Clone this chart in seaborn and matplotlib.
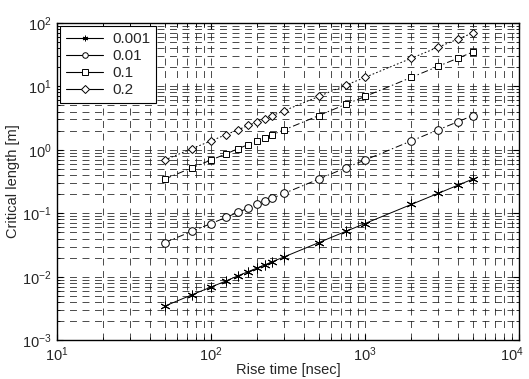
import matplotlib
matplotlib.use("Agg")
import matplotlib.pyplot as plt
import seaborn as sns
import pandas as pd
from matplotlib.ticker import LogLocator, NullFormatter, FuncFormatter, LogFormatterSciNotation

sns.set_style("ticks")
plt.rcParams['font.family'] = ['Liberation Sans', 'DejaVu Sans']
plt.rcParams['mathtext.fontset'] = 'custom'
plt.rcParams['mathtext.rm'] = 'Liberation Sans'
plt.rcParams['mathtext.it'] = 'Liberation Sans:italic'
plt.rcParams['lines.scale_dashes'] = False

# Data (rise time in nsec, critical length in m)
rise_time = [50, 75, 100, 125, 150, 175, 200, 225, 250, 300, 500, 750, 1000, 2000, 3000, 4000, 5000]
len_0001 = [0.00345, 0.0052, 0.0069, 0.0086, 0.0104, 0.0121, 0.0138, 0.0155, 0.0173, 0.0207,
            0.0345, 0.052, 0.069, 0.138, 0.207, 0.276, 0.345]
len_001 = [0.0345, 0.052, 0.069, 0.086, 0.104, 0.121, 0.138, 0.155, 0.173, 0.207,
           0.345, 0.52, 0.69, 1.38, 2.07, 2.76, 3.45]
len_01 = [0.345, 0.52, 0.69, 0.86, 1.04, 1.21, 1.38, 1.55, 1.73, 2.07,
          3.45, 5.2, 6.9, 13.8, 20.7, 27.6, 34.5]
len_02 = [0.69, 1.04, 1.38, 1.73, 2.07, 2.42, 2.76, 3.1, 3.45, 4.14,
          6.9, 10.4, 13.8, 27.6, 41.4, 55.2, 69.0]
series_labels = ['0.001', '0.01', '0.1', '0.2']
series_values = [len_0001, len_001, len_01, len_02]

styles = {
    '0.001': dict(marker=(6, 2, 0), ls='-', ms=7),
    '0.01': dict(marker='o', ls=(0, (5, 2, 1, 2)), ms=5.5),
    '0.1': dict(marker='s', ls=(0, (5, 2, 1, 2)), ms=4.5),
    '0.2': dict(marker='D', ls=(0, (1.2, 1.5)), ms=4.2),
}

fig = plt.figure(figsize=(5.29, 3.79), dpi=100)
ax = fig.add_axes([0.1078, 0.102, 0.8733, 0.838])

for lab, vals in zip(series_labels, series_values):
    df = pd.DataFrame({'x': rise_time, 'y': vals})
    st = styles[lab]
    sns.lineplot(data=df, x='x', y='y', ax=ax, color='black', linewidth=0.7,
                 linestyle=st['ls'], marker=st['marker'], markersize=st['ms'],
                 markerfacecolor='white', markeredgecolor='black', markeredgewidth=0.7,
                 label=lab, errorbar=None, sort=False)

ax.set_xscale('log')
ax.set_yscale('log')
ax.set_xlim(10, 1e4)
ax.set_ylim(1e-3, 1e2)
ax.xaxis.set_major_locator(LogLocator(base=10, numticks=10))
ax.yaxis.set_major_locator(LogLocator(base=10, numticks=10))
ax.xaxis.set_minor_locator(LogLocator(base=10, subs=range(2, 10), numticks=20))
ax.yaxis.set_minor_locator(LogLocator(base=10, subs=range(2, 10), numticks=20))
ax.xaxis.set_minor_formatter(NullFormatter())
ax.yaxis.set_minor_formatter(NullFormatter())

_sci = LogFormatterSciNotation()
x_max = 1e4
ax.xaxis.set_major_formatter(FuncFormatter(lambda v, p: '' if abs(v - x_max) < 1 else _sci(v, p)))

ax.grid(True, which='both', color='#1a1a1a', linewidth=0.55, linestyle=(0, (5, 4)))
ax.set_axisbelow(True)
ax.tick_params(which='both', direction='in', top=True, right=True, labelsize=10.5, color='black')
ax.tick_params(which='major', length=4, pad=4)
ax.tick_params(which='minor', length=2)
for s in ax.spines.values():
    s.set_linewidth(1.0)
    s.set_color('black')

# right-most x tick label, nudged to stay inside the figure
ax.annotate(r'$\mathdefault{10^{4}}$', xy=(x_max, 0), xycoords=('data', 'axes fraction'),
            xytext=(-5, -4), textcoords='offset points', ha='center', va='top', fontsize=10.5)

ax.set_xlabel('Rise time [nsec]', fontsize=10.5, labelpad=-1)
ax.set_ylabel('Critical length [m]', fontsize=10.5, labelpad=1)

leg = ax.legend(loc='upper left', fontsize=11, frameon=True, fancybox=False,
                edgecolor='black', framealpha=1, borderaxespad=0.2, handlelength=2.4,
                handletextpad=0.6, labelspacing=0.2, borderpad=0.4)
leg.get_frame().set_linewidth(0.8)
for h in leg.get_lines():
    h.set_linestyle('-')
    h.set_linewidth(0.8)
    h.set_markersize(4)

fig.savefig('out.png', dpi=100)
